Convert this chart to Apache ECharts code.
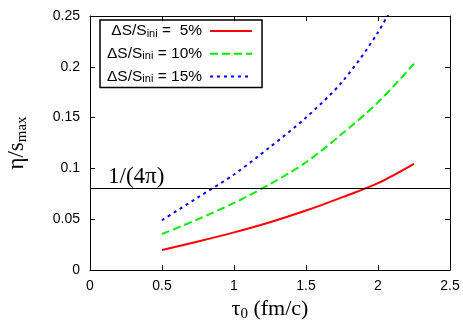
<!DOCTYPE html>
<html>
<head>
<meta charset="utf-8">
<script src="https://cdn.jsdelivr.net/npm/echarts@6/dist/echarts.min.js"></script>
<style>
  html, body { margin: 0; padding: 0; background: #fff; }
  #chart { width: 463px; height: 322px; }
</style>
</head>
<body>
<div id="chart"></div>
<script>
// tau_0 values (fm/c)
const tau = [0.5, 0.75, 1.0, 1.25, 1.5, 1.75, 2.0, 2.25];
// eta/s_max for the three entropy fractions
const ds5 = [0.0196, 0.0280, 0.0370, 0.0470, 0.0585, 0.0715, 0.0855, 0.1045];
const ds10 = [0.0354, 0.0500, 0.0660, 0.0845, 0.1060, 0.1340, 0.1650, 0.2030];
const ds15 = [0.0490, 0.0715, 0.0940, 0.1210, 0.1500, 0.1850, 0.2340, 0.3000];
const pctLabels = [' 5%', '10%', '15%'];
const xTicks = [0, 0.5, 1, 1.5, 2, 2.5];
const yTicks = [0, 0.05, 0.1, 0.15, 0.2, 0.25];
const kss = 1 / (4 * Math.PI);

const names = pctLabels.map(p => 'ΔS/S_ini = ' + p);
const pairs = ys => tau.map((t, i) => [t, ys[i]]);

const chart = echarts.init(document.getElementById('chart'));
const sans = 'Liberation Sans';
const serif = 'Liberation Serif';

function mkAxis(pos, isX, show) {
  const ticks = isX ? xTicks : yTicks;
  return {
    type: 'value',
    position: pos,
    min: ticks[0],
    max: ticks[ticks.length - 1],
    interval: ticks[1] - ticks[0],
    axisLine: { show: true, onZero: false, lineStyle: { color: '#000', width: 1 } },
    axisTick: { show: true, inside: true, length: 5, lineStyle: { color: '#000', width: 1 } },
    splitLine: { show: false },
    axisLabel: {
      show: show,
      color: '#000',
      fontFamily: sans,
      fontSize: 14,
      margin: isX ? 9 : 10
    }
  };
}

const xMain = mkAxis('bottom', true, true);
xMain.name = '{t|τ}{s|0}{t| (fm/c)}';
xMain.nameLocation = 'middle';
xMain.nameGap = 25;
xMain.nameTextStyle = {
  rich: {
    t: { fontFamily: serif, fontSize: 22, color: '#000' },
    s: { fontFamily: serif, fontSize: 15, color: '#000', padding: [11, 0, 0, 0] }
  }
};

const yMain = mkAxis('left', false, true);
yMain.name = '{t|η/s}{s|max}';
yMain.nameLocation = 'middle';
yMain.nameGap = 60;
yMain.nameTextStyle = {
  rich: {
    t: { fontFamily: serif, fontSize: 23, color: '#000' },
    s: { fontFamily: serif, fontSize: 15, color: '#000', padding: [11, 0, 0, 0] }
  }
};

const styles = [
  { color: '#ff0000', type: 'solid' },
  { color: '#00ee00', type: [8, 4] },
  { color: '#0000ff', type: [3, 4] }
];
const dataSets = [ds5, ds10, ds15];

const series = dataSets.map((ys, i) => ({
  name: names[i],
  type: 'line',
  data: pairs(ys),
  smooth: 0.3,
  symbol: 'none',
  clip: true,
  lineStyle: { color: styles[i].color, width: 2, type: styles[i].type },
  itemStyle: { color: styles[i].color },
  z: 3
}));

series[0].markLine = {
  silent: true,
  symbol: 'none',
  animation: false,
  lineStyle: { color: '#000', width: 1.2, type: 'solid' },
  label: {
    show: true,
    position: 'insideStartTop',
    formatter: '1/(4π)',
    fontFamily: serif,
    fontSize: 23,
    color: '#000',
    distance: [18, 0]
  },
  data: [{ yAxis: kss }]
};

chart.setOption({
  animation: false,
  backgroundColor: '#fff',
  grid: { left: 90, right: 13, top: 16, bottom: 52, containLabel: false, outerBoundsMode: 'none' },
  xAxis: [xMain, mkAxis('top', true, false)],
  yAxis: [yMain, mkAxis('right', false, false)],
  legend: {
    orient: 'vertical',
    left: 100,
    top: 20,
    align: 'right',
    itemWidth: 42,
    itemHeight: 14,
    itemGap: 6.7,
    padding: [3, 9, 3, 7],
    borderColor: '#000',
    borderWidth: 1.5,
    itemStyle: { opacity: 0 },
    data: names,
    formatter: function (name) {
      const p = pctLabels[names.indexOf(name)];
      return '{a|ΔS/S}{b|ini}{a| = ' + p + '}';
    },
    textStyle: {
      padding: [0, 3, 0, 0],
      rich: {
        a: { fontFamily: sans, fontSize: 15.5, lineHeight: 16, color: '#000' },
        b: { fontFamily: sans, fontSize: 11, lineHeight: 11, color: '#000', padding: [5, 0, 0, 0] }
      }
    }
  },
  series: series
});
</script>
</body>
</html>
